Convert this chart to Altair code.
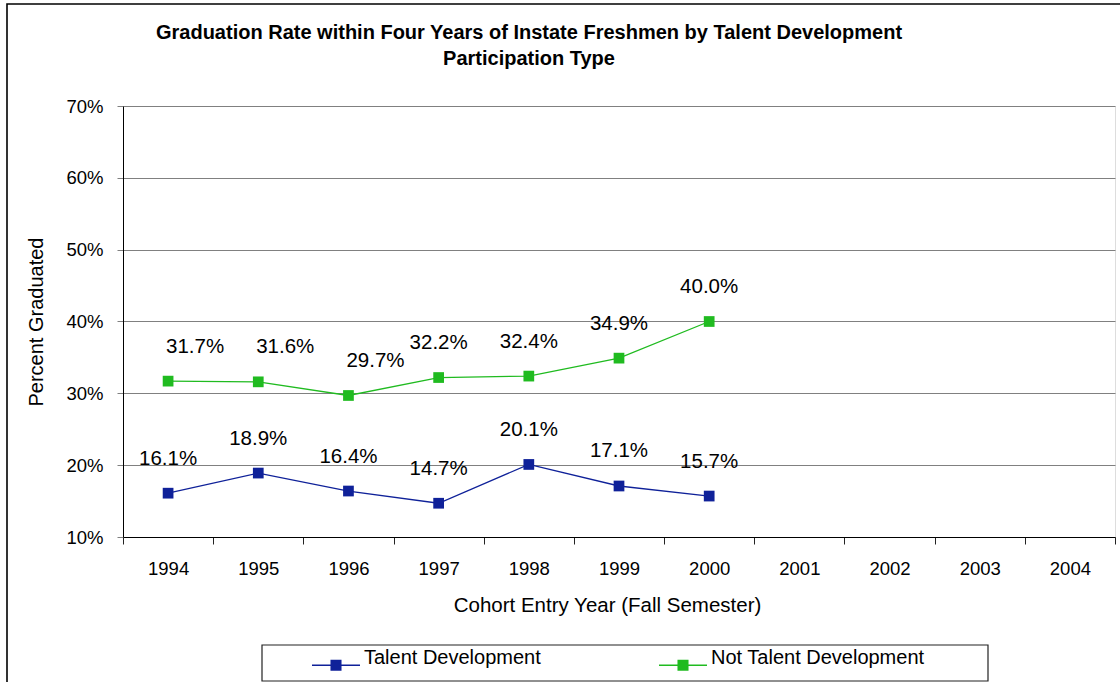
import altair as alt
import pandas as pd

# ---- data ----
years = ["1994", "1995", "1996", "1997", "1998", "1999", "2000",
         "2001", "2002", "2003", "2004"]
data_years = ["1994", "1995", "1996", "1997", "1998", "1999", "2000"]
td_values = [16.1, 18.9, 16.4, 14.7, 20.1, 17.1, 15.7]
ntd_values = [31.7, 31.6, 29.7, 32.2, 32.4, 34.9, 40.0]
series_names = ["Talent Development", "Not Talent Development"]
series_colors = ["#0f2199", "#20bb20"]
y_ticks = [0.1, 0.2, 0.3, 0.4, 0.5, 0.6, 0.7]

rows = []
for name, vals in zip(series_names, [td_values, ntd_values]):
    for i, (yr, v) in enumerate(zip(data_years, vals)):
        rows.append({"year": yr, "series": name, "value": v / 100.0, "idx": i})
df = pd.DataFrame(rows)

FONT = "Liberation Sans"

x_enc = alt.X(
    "year:O",
    scale=alt.Scale(type="band", domain=years, paddingInner=0, paddingOuter=0),
    axis=alt.Axis(
        title="Cohort Entry Year (Fall Semester)",
        labelAngle=0, tickBand="extent", grid=False,
        tickSize=7, tickColor="#222222", domainColor="black",
        labelFontSize=18.5, labelFont=FONT, labelColor="black", labelPadding=15,
        titleFontSize=20.5, titleFont=FONT, titleFontWeight="normal", titleColor="black",
        titleX=484, titleY=68, titleBaseline="middle", titleAlign="center",
    ),
)
y_enc = alt.Y(
    "value:Q",
    scale=alt.Scale(domain=[0.1, 0.7], nice=False, zero=False),
    axis=alt.Axis(
        title="Percent Graduated",
        values=y_ticks, format=".0%", grid=True, gridColor="#808080",
        tickColor="#808080", tickSize=6, domainColor="black",
        labelFontSize=18.5, labelFont=FONT, labelColor="black", labelPadding=14,
        titleFontSize=20, titleFont=FONT, titleFontWeight="normal", titleColor="black",
        titleX=-87, titleY=215.5, titleAngle=270, titleBaseline="middle", titleAlign="center",
    ),
)
color_scale = alt.Scale(domain=series_names, range=series_colors)
# same mapping, listed in the other order so the line scale stays separate
stroke_scale = alt.Scale(domain=series_names[::-1], range=series_colors[::-1])

legend_symbol = "M-1,0.265H1V0.32H-1Z M-0.23,0.06H0.23V0.52H-0.23Z"

base = alt.Chart(df)

lines = base.mark_line(strokeWidth=1.3).encode(
    x=x_enc, y=y_enc,
    stroke=alt.Stroke("series:N", scale=stroke_scale, legend=None),
    detail="series:N",
)
points = base.mark_point(filled=True, shape="square", size=115, opacity=1).encode(
    x=x_enc, y=y_enc,
    color=alt.Color(
        "series:N", scale=color_scale, sort=series_names,
        legend=alt.Legend(
            title=None, orient="none", legendX=189, legendY=528,
            direction="horizontal", columns=2, columnPadding=118,
            symbolType=legend_symbol, symbolSize=2304, symbolStrokeWidth=0,
            symbolOpacity=1, labelFontSize=20, labelFont=FONT, labelColor="black",
            labelOffset=4, labelLimit=400, padding=0,
        ),
    ),
)

shift_cond = "datum.series == 'Not Talent Development' && datum.idx < 3"
labels_main = base.transform_filter("!(" + shift_cond + ")").mark_text(
    dy=-34.5, fontSize=20.5, font=FONT, color="black"
).encode(x=x_enc, y=y_enc, text=alt.Text("value:Q", format=".1%"))
labels_shift = base.transform_filter(shift_cond).mark_text(
    dy=-34.5, dx=27, fontSize=20.5, font=FONT, color="black"
).encode(x=x_enc, y=y_enc, text=alt.Text("value:Q", format=".1%"))

frame_df = pd.DataFrame({"k": [0]})
legend_box = alt.Chart(frame_df).mark_rect(
    fill="transparent", stroke="#222222", strokeWidth=1.2
).encode(x=alt.value(139), x2=alt.value(865), y=alt.value(539), y2=alt.value(575))
outer_box = alt.Chart(frame_df).mark_rect(
    fill="transparent", stroke="black", strokeWidth=1.6
).encode(x=alt.value(-116), x2=alt.value(1100), y=alt.value(-102), y2=alt.value(700))

chart = alt.layer(
    outer_box, legend_box, lines, points, labels_main, labels_shift
).properties(
    width=992, height=431,
    title=alt.TitleParams(
        ["Graduation Rate within Four Years of Instate Freshmen by Talent Development",
         "Participation Type"],
        anchor="middle", frame="group", dx=-90, dy=103, offset=37, fontSize=20,
        font=FONT, fontWeight="bold", color="black", lineHeight=26,
    ),
    padding={"left": 123, "top": 106, "right": 5, "bottom": 145},
    autosize=alt.AutoSizeParams(type="none"),
).configure_view(stroke="#808080").configure(background="white")

chart.save("out.html", embed_options={"renderer": "svg", "actions": False})
